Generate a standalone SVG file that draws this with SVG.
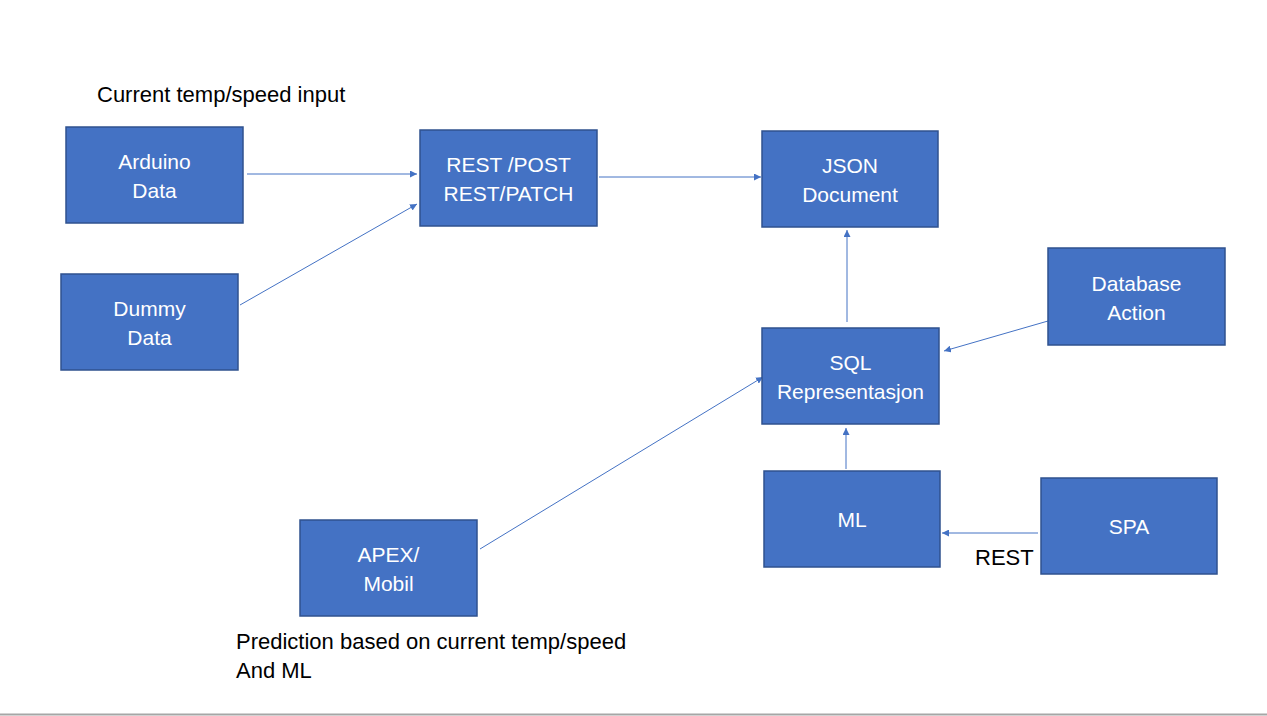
<svg xmlns="http://www.w3.org/2000/svg" width="1267" height="716" viewBox="0 0 1267 716">
<style>
.box{fill:#4472C4;stroke:#2F528F;stroke-width:1.5}
.bt{font-family:"Liberation Sans",Arial,sans-serif;font-size:21px;fill:#fff;text-anchor:middle}
.lbl{font-family:"Liberation Sans",Arial,sans-serif;font-size:22px;fill:#000}
.con{stroke:#4472C4;stroke-width:1;fill:none;marker-end:url(#ah)}
</style>
<defs>
<marker id="ah" viewBox="0 0 10 10" refX="10" refY="5" markerWidth="7" markerHeight="7" markerUnits="userSpaceOnUse" orient="auto"><path d="M0,0L10,5L0,10z" fill="#4472C4"/></marker>
</defs>
<rect width="1267" height="716" fill="#fff"/>
<line x1="0" y1="714.5" x2="1267" y2="714.5" stroke="#A6A6A6" stroke-width="2"/>
<g id="connectors">
<line class="con" x1="247" y1="174" x2="417" y2="174"/>
<line class="con" x1="240" y1="305" x2="417" y2="204"/>
<line class="con" x1="599" y1="177" x2="761" y2="177"/>
<line class="con" x1="847" y1="322" x2="847" y2="230"/>
<line class="con" x1="1048" y1="321" x2="944" y2="351"/>
<line class="con" x1="480" y1="549" x2="763" y2="377"/>
<line class="con" x1="846" y1="469" x2="846" y2="428"/>
<line class="con" x1="1038" y1="533" x2="942" y2="533"/>
</g>
<g id="arduino"><rect class="box" x="66" y="127" width="177" height="96"/><text class="bt" x="154.5" y="169">Arduino</text><text class="bt" x="154.5" y="198">Data</text></g>
<g id="dummy"><rect class="box" x="61" y="274" width="177" height="96"/><text class="bt" x="149.5" y="316">Dummy</text><text class="bt" x="149.5" y="345">Data</text></g>
<g id="rest"><rect class="box" x="420" y="130" width="177" height="96"/><text class="bt" x="508.5" y="172">REST /POST</text><text class="bt" x="508.5" y="201">REST/PATCH</text></g>
<g id="json"><rect class="box" x="762" y="131" width="176" height="96"/><text class="bt" x="850" y="173">JSON</text><text class="bt" x="850" y="202">Document</text></g>
<g id="database"><rect class="box" x="1048" y="248" width="177" height="97"/><text class="bt" x="1136.5" y="291">Database</text><text class="bt" x="1136.5" y="320">Action</text></g>
<g id="sql"><rect class="box" x="762" y="328" width="177" height="96"/><text class="bt" x="850.5" y="370">SQL</text><text class="bt" x="850.5" y="399">Representasjon</text></g>
<g id="ml"><rect class="box" x="764" y="471" width="176" height="96"/><text class="bt" x="852" y="527">ML</text></g>
<g id="spa"><rect class="box" x="1041" y="478" width="176" height="96"/><text class="bt" x="1129" y="534">SPA</text></g>
<g id="apex"><rect class="box" x="300" y="520" width="177" height="96"/><text class="bt" x="388.5" y="562">APEX/</text><text class="bt" x="388.5" y="591">Mobil</text></g>
<text class="lbl" x="97" y="102">Current temp/speed input</text>
<text class="lbl" x="975" y="565">REST</text>
<text class="lbl" x="236" y="649">Prediction based on current temp/speed</text>
<text class="lbl" x="236" y="678">And ML</text>
</svg>
